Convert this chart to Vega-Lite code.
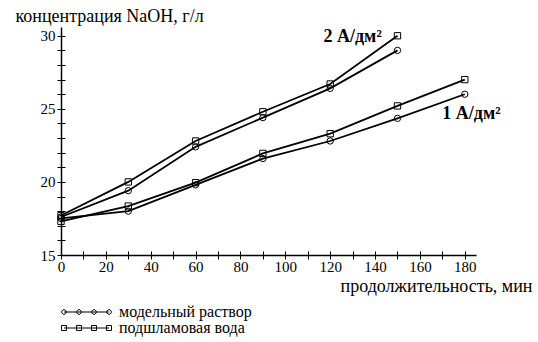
{
  "$schema": "https://vega.github.io/schema/vega-lite/v6.json",
  "autosize": "none",
  "width": 415,
  "height": 228,
  "padding": {"left": 61, "top": 27, "right": 62, "bottom": 87},
  "background": "white",
  "config": {
    "view": {"stroke": null},
    "font": "Liberation Serif",
    "style": {"guide-label": {"font": "Liberation Serif", "fill": "black"}},
    "axis": {
      "grid": false,
      "domainColor": "black",
      "domainWidth": 1.5,
      "tickColor": "black",
      "tickWidth": 1,
      "labelColor": "black",
      "labelFont": "Liberation Serif",
      "labelFontSize": 15,
      "titleFont": "Liberation Serif",
      "titleFontSize": 18,
      "titleFontWeight": "normal",
      "titleColor": "black"
    }
  },
  "datasets": {
    "main": [
      {"t": 0, "c": 17.5, "series": "модельный раствор", "current": "1 А/дм²"},
      {"t": 30, "c": 18.0, "series": "модельный раствор", "current": "1 А/дм²"},
      {"t": 60, "c": 19.8, "series": "модельный раствор", "current": "1 А/дм²"},
      {"t": 90, "c": 21.6, "series": "модельный раствор", "current": "1 А/дм²"},
      {"t": 120, "c": 22.8, "series": "модельный раствор", "current": "1 А/дм²"},
      {"t": 150, "c": 24.35, "series": "модельный раствор", "current": "1 А/дм²"},
      {"t": 180, "c": 26.0, "series": "модельный раствор", "current": "1 А/дм²"},
      {"t": 0, "c": 17.3, "series": "подшламовая вода", "current": "1 А/дм²"},
      {"t": 30, "c": 18.35, "series": "подшламовая вода", "current": "1 А/дм²"},
      {"t": 60, "c": 19.95, "series": "подшламовая вода", "current": "1 А/дм²"},
      {"t": 90, "c": 21.95, "series": "подшламовая вода", "current": "1 А/дм²"},
      {"t": 120, "c": 23.3, "series": "подшламовая вода", "current": "1 А/дм²"},
      {"t": 150, "c": 25.2, "series": "подшламовая вода", "current": "1 А/дм²"},
      {"t": 180, "c": 27.0, "series": "подшламовая вода", "current": "1 А/дм²"},
      {"t": 0, "c": 17.6, "series": "модельный раствор", "current": "2 А/дм²"},
      {"t": 30, "c": 19.4, "series": "модельный раствор", "current": "2 А/дм²"},
      {"t": 60, "c": 22.4, "series": "модельный раствор", "current": "2 А/дм²"},
      {"t": 90, "c": 24.4, "series": "модельный раствор", "current": "2 А/дм²"},
      {"t": 120, "c": 26.4, "series": "модельный раствор", "current": "2 А/дм²"},
      {"t": 150, "c": 29.0, "series": "модельный раствор", "current": "2 А/дм²"},
      {"t": 0, "c": 17.7, "series": "подшламовая вода", "current": "2 А/дм²"},
      {"t": 30, "c": 20.0, "series": "подшламовая вода", "current": "2 А/дм²"},
      {"t": 60, "c": 22.8, "series": "подшламовая вода", "current": "2 А/дм²"},
      {"t": 90, "c": 24.8, "series": "подшламовая вода", "current": "2 А/дм²"},
      {"t": 120, "c": 26.7, "series": "подшламовая вода", "current": "2 А/дм²"},
      {"t": 150, "c": 30.0, "series": "подшламовая вода", "current": "2 А/дм²"}
    ]
  },
  "resolve": {"axis": {"x": "independent", "y": "independent"}, "scale": {"shape": "independent"}, "legend": {"shape": "independent"}},
  "layer": [
    {
      "data": {"name": "main"},
      "mark": {"type": "line", "color": "black", "strokeWidth": 1.8},
      "encoding": {
        "x": {
          "field": "t", "type": "quantitative",
          "scale": {"domain": [0, 185], "nice": false, "zero": false},
          "axis": {
            "orient": "bottom",
            "values": [0, 10, 20, 30, 40, 50, 60, 70, 80, 90, 100, 110, 120, 130, 140, 150, 160, 170, 180],
            "labelExpr": "datum.value % 20 === 0 ? datum.label : ''",
            "labelFont": "Liberation Serif",
            "labelFontSize": 15,
            "tickSize": 4,
            "labelPadding": 0,
            "labelFlush": false,
            "labelOverlap": false,
            "title": "продолжительность, мин",
            "titleX": 471,
            "titleY": 36,
            "titleAlign": "right",
            "titleAnchor": "end",
            "titleBaseline": "alphabetic",
            "encode": {"labels": {"font": {"value": "Liberation Serif"}}}
          }
        },
        "y": {
          "field": "c", "type": "quantitative",
          "scale": {"domain": [15, 30.6], "nice": false, "zero": false},
          "axis": {
            "orient": "left",
            "values": [15, 16, 17, 18, 19, 20, 21, 22, 23, 24, 25, 26, 27, 28, 29, 30],
            "labelExpr": "datum.value % 5 === 0 ? datum.label : ''",
            "labelFont": "Liberation Serif",
            "labelFontSize": 15,
            "tickSize": 4,
            "labelPadding": 2,
            "labelFlush": false,
            "labelOverlap": false,
            "title": "концентрация NaOH, г/л",
            "titleAngle": 0,
            "titleX": -46,
            "titleY": -6,
            "titleAlign": "left",
            "titleBaseline": "alphabetic",
            "encode": {"labels": {"font": {"value": "Liberation Serif"}}}
          }
        },
        "detail": [{"field": "series"}, {"field": "current"}]
      }
    },
    {
      "data": {"name": "main"},
      "mark": {"type": "point", "filled": false, "color": "black", "strokeWidth": 1, "size": 40, "opacity": 1},
      "encoding": {
        "x": {
          "field": "t", "type": "quantitative",
          "axis": {
            "orient": "bottom",
            "values": [0, 10, 20, 30, 40, 50, 60, 70, 80, 90, 100, 110, 120, 130, 140, 150, 160, 170, 180],
            "tickSize": -4,
            "labels": false,
            "domain": false,
            "title": null
          }
        },
        "y": {
          "field": "c", "type": "quantitative",
          "axis": {
            "orient": "left",
            "values": [15, 16, 17, 18, 19, 20, 21, 22, 23, 24, 25, 26, 27, 28, 29, 30],
            "tickSize": -4,
            "labels": false,
            "domain": false,
            "title": null
          }
        },
        "shape": {
          "field": "series", "type": "nominal",
          "scale": {"domain": ["модельный раствор", "подшламовая вода"], "range": ["circle", "square"]},
          "legend": null
        }
      }
    },
    {
      "data": {"name": "main"},
      "mark": {"type": "point", "filled": false, "color": "black", "strokeWidth": 1, "opacity": 0},
      "encoding": {
        "x": {"field": "t", "type": "quantitative", "axis": null},
        "y": {"field": "c", "type": "quantitative", "axis": null},
        "shape": {
          "field": "series", "type": "nominal",
          "scale": {
            "domain": ["модельный раствор", "подшламовая вода"],
            "range": [
              "M-7.5,0L0,0M0.37,0.153L0.153,0.37L-0.153,0.37L-0.37,0.153L-0.37,-0.153L-0.153,-0.37L0.153,-0.37L0.37,-0.153ZM-2.13,0.153L-2.347,0.37L-2.653,0.37L-2.87,0.153L-2.87,-0.153L-2.653,-0.37L-2.347,-0.37L-2.13,-0.153ZM-4.63,0.153L-4.847,0.37L-5.153,0.37L-5.37,0.153L-5.37,-0.153L-5.153,-0.37L-4.847,-0.37L-4.63,-0.153ZM-7.13,0.153L-7.347,0.37L-7.653,0.37L-7.87,0.153L-7.87,-0.153L-7.653,-0.37L-7.347,-0.37L-7.13,-0.153Z",
              "M-7.5,0L0,0M-0.42,-0.42L0.42,-0.42L0.42,0.42L-0.42,0.42ZM-2.92,-0.42L-2.08,-0.42L-2.08,0.42L-2.92,0.42ZM-5.42,-0.42L-4.58,-0.42L-4.58,0.42L-5.42,0.42ZM-7.92,-0.42L-7.08,-0.42L-7.08,0.42L-7.92,0.42Z"
            ]
          },
          "legend": {
            "orient": "none",
            "legendX": 40,
            "legendY": 277,
            "title": null,
            "padding": 0,
            "rowPadding": 0,
            "symbolSize": 144,
            "symbolOpacity": 1,
            "symbolFillColor": "transparent",
            "symbolStrokeColor": "black",
            "symbolStrokeWidth": 1,
            "labelFont": "Liberation Serif",
            "labelFontSize": 16,
            "labelColor": "black",
            "labelOffset": 2
          }
        }
      }
    },
    {
      "data": {"values": [{"t": 143, "c": 29.93, "label": "2 А/дм²"}]},
      "mark": {"type": "text", "font": "Liberation Serif", "fontSize": 18, "fontWeight": "bold", "align": "right", "baseline": "middle", "color": "black"},
      "encoding": {
        "x": {"field": "t", "type": "quantitative", "axis": null},
        "y": {"field": "c", "type": "quantitative", "axis": null},
        "text": {"field": "label"}
      }
    },
    {
      "data": {"values": [{"t": 170, "c": 24.62, "label": "1 А/дм²"}]},
      "mark": {"type": "text", "font": "Liberation Serif", "fontSize": 18, "fontWeight": "bold", "align": "left", "baseline": "middle", "color": "black"},
      "encoding": {
        "x": {"field": "t", "type": "quantitative", "axis": null},
        "y": {"field": "c", "type": "quantitative", "axis": null},
        "text": {"field": "label"}
      }
    }
  ]
}
